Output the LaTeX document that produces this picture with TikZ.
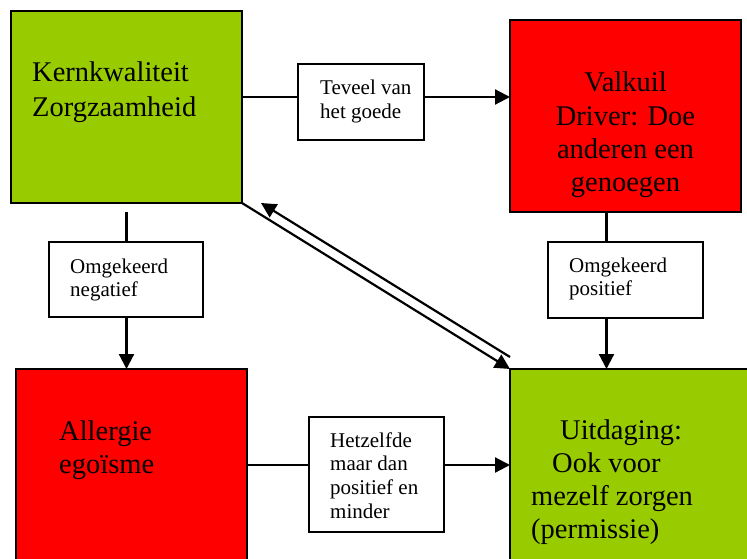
\documentclass[tikz,border=0pt]{standalone}
\usepackage{fontspec}
\setmainfont{Liberation Serif}
\usetikzlibrary{arrows.meta}
\definecolor{kgreen}{RGB}{153,204,0}
\definecolor{kred}{RGB}{255,0,0}
\newcommand\ctrline[1]{\hbox to 0pt{\hss#1\hss}}
\begin{document}
\begin{tikzpicture}[x=1pt,y=-1pt,
  bigbox/.style={draw=black, line width=1.5pt, inner sep=0pt, outer sep=0pt, minimum width=231pt, minimum height=192pt},
  labelbox/.style={draw=black, line width=1.5pt, fill=white, inner sep=0pt, outer sep=0pt},
  bigtext/.style={inner sep=0pt, anchor=base west, font=\fontsize{28.5}{33.3}\selectfont},
  smalltext/.style={inner sep=0pt, anchor=base west, font=\fontsize{21}{23.7}\selectfont},
  conn/.style={line width=2.2pt, draw=black},
  arr/.style={conn, -{Triangle[length=15pt,width=15pt]}}]
\useasboundingbox (0,0) rectangle (747,559);
\clip (0,0) rectangle (747,559);
% main boxes
\node[bigbox, fill=kgreen] (b1) at (126.5,107) {};
\node[bigbox, fill=kred] (b2) at (625.5,116) {};
\node[bigbox, fill=kred] (b3) at (131.5,465) {};
\node[bigbox, fill=kgreen, minimum width=250pt] (b4) at (635,465) {};
% label boxes
\node[labelbox, minimum width=126pt, minimum height=76pt] (t1) at (361,102) {};
\node[labelbox, minimum width=154pt, minimum height=75pt] (t2) at (126,279.5) {};
\node[labelbox, minimum width=155pt, minimum height=76pt] (t3) at (625.5,280) {};
\node[labelbox, minimum width=135pt, minimum height=115pt] (t4) at (376.5,474.5) {};
% texts
\node[bigtext, font=\fontsize{28.5}{35}\selectfont] (x1) at (32,82) {\vtop{\hbox{Kernkwaliteit}\hbox{Zorgzaamheid}}};
\node[bigtext, anchor=base] (x2) at (625.5,92) {\vtop{\ctrline{Valkuil}\ctrline{Driver: Doe}\ctrline{anderen een}\ctrline{genoegen}}};
\node[bigtext] (x3) at (59,440) {\vtop{\hbox{Allergie}\hbox{egoïsme}}};
\node[bigtext] (x4) at (531,439) {\vtop{\hbox{\hskip29pt Uitdaging:}\hbox{\hskip21pt Ook voor}\hbox{mezelf zorgen}\hbox{(permissie)}}};
\node[smalltext] (y1) at (320,95) {\vtop{\hbox{Teveel van}\hbox{het goede}}};
\node[smalltext] (y2) at (70,273) {\vtop{\hbox{Omgekeerd}\hbox{negatief}}};
\node[smalltext] (y3) at (569,272) {\vtop{\hbox{Omgekeerd}\hbox{positief}}};
\node[smalltext] (y4) at (330,447) {\vtop{\hbox{Hetzelfde}\hbox{maar dan}\hbox{positief en}\hbox{minder}}};
% connectors
\coordinate (s1) at ([yshift=-9pt]b1.south);
\draw[conn] ([yshift=10pt]b1.east) -- ([yshift=5pt]t1.west);
\draw[arr] ([yshift=5pt]t1.east) -- ([yshift=5pt]t1.east -| b2.west);
\draw[conn] (s1) -- (s1 |- t2.north);
\draw[arr] (s1 |- t2.south) -- (s1 |- b3.north);
\draw[conn] ([xshift=-19pt]b2.south) -- ([xshift=-19pt]b2.south |- t3.north);
\draw[arr] ([xshift=-19pt]b2.south |- t3.south) -- ([xshift=-19pt]b2.south |- b4.north);
\draw[conn] (b3.east) -- (b3.east -| t4.west);
\draw[arr] (b3.east -| t4.east) -- (b3.east -| b4.west);
\draw[arr] (b1.south east) -- (b4.north west);
\draw[arr] ([yshift=12pt]b4.north west) -- ([xshift=19pt]b1.south east);
\end{tikzpicture}
\end{document}
